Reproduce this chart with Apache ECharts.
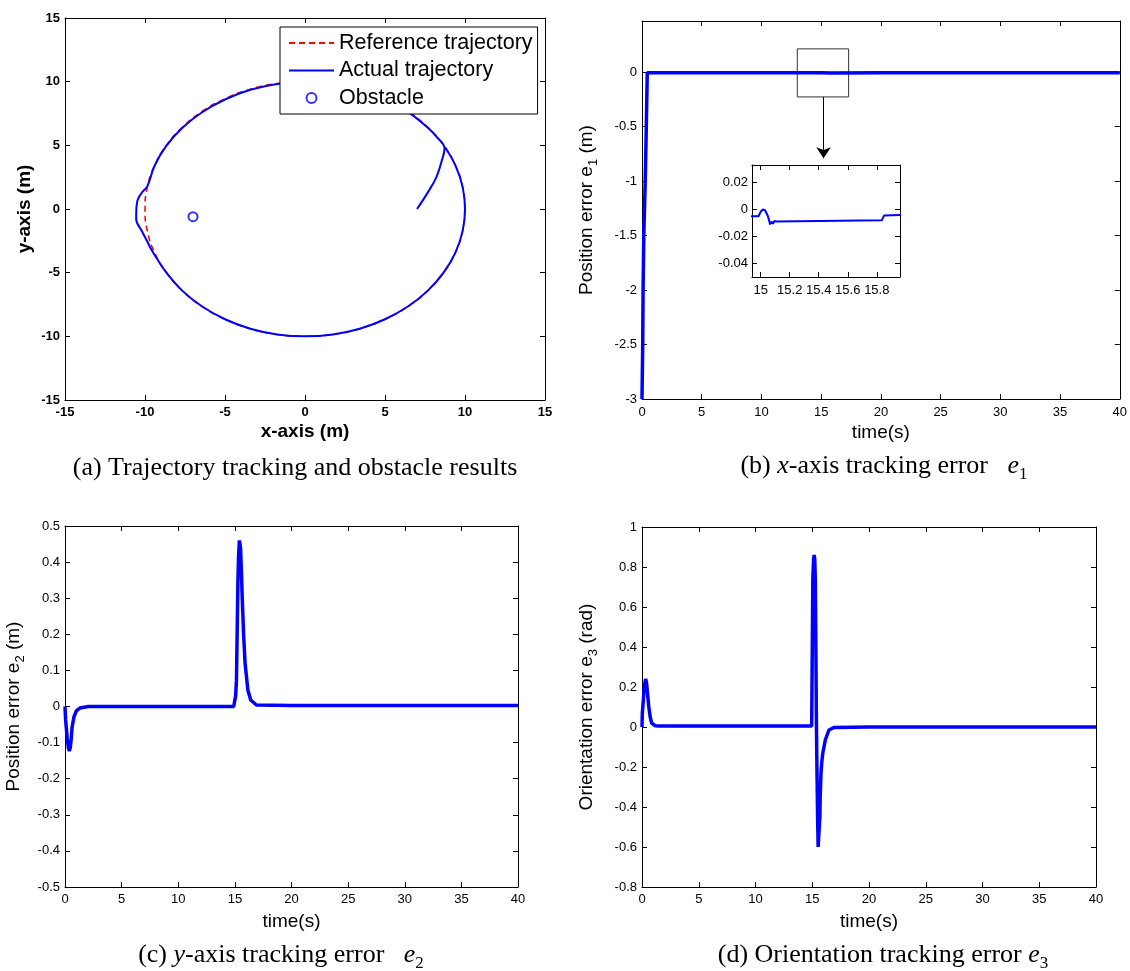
<!DOCTYPE html>
<html>
<head>
<meta charset="utf-8">
<script src="https://cdn.jsdelivr.net/npm/echarts@6/dist/echarts.min.js"></script>
<style>
  html, body { margin: 0; padding: 0; background: #fff; }
  #chart { width: 1130px; height: 971px; }
</style>
</head>
<body>
<div id="chart"></div>
<script>
// ---------- (a) trajectory tracking with obstacle ----------
const refX = [10, 9.85, 9.40, 8.66, 7.66, 6.43, 5.00, 3.42, 1.74, 0, -1.74, -3.42, -5.00, -6.43, -7.66, -8.66, -9.40, -9.85, -10, -9.85, -9.40, -8.66, -7.66, -6.43, -5.00, -3.42, -1.74, 0, 1.74, 3.42, 5.00, 6.43, 7.66, 8.66, 9.40, 9.85, 10];
const refY = [0, 1.74, 3.42, 5.00, 6.43, 7.66, 8.66, 9.40, 9.85, 10, 9.85, 9.40, 8.66, 7.66, 6.43, 5.00, 3.42, 1.74, 0, -1.74, -3.42, -5.00, -6.43, -7.66, -8.66, -9.40, -9.85, -10, -9.85, -9.40, -8.66, -7.66, -6.43, -5.00, -3.42, -1.74, 0];
const actX = [7.0, 7.6, 8.2, 8.55, 8.72, 8.2, 7.66, 6.43, 5.0, 3.42, 1.74, 0, -1.74, -3.42, -5.0, -6.43, -7.66, -8.66, -9.40, -9.85, -10.2, -10.48, -10.55, -10.55, -10.2, -9.88, -9.55, -9.2, -8.66, -7.66, -6.43, -5.0, -3.42, -1.74, 0, 1.74, 3.42, 5.0, 6.43, 7.66, 8.66, 9.40, 9.85, 10.0, 9.85, 9.40, 8.75];
const actY = [0, 1.15, 2.46, 3.8, 4.75, 5.7, 6.40, 7.63, 8.63, 9.37, 9.82, 9.97, 9.82, 9.36, 8.6, 7.6, 6.38, 4.97, 3.40, 1.8, 1.28, 0.63, -0.4, -0.8, -1.73, -2.5, -3.3, -4.0, -5.0, -6.43, -7.66, -8.66, -9.40, -9.85, -10, -9.85, -9.40, -8.66, -7.66, -6.43, -5.0, -3.42, -1.74, 0, 1.74, 3.42, 4.85];
const obstacle = [-7.0, -0.6];
const trajTicks = [-15, -10, -5, 0, 5, 10, 15];

// ---------- (b) x-axis tracking error e1 ----------
const timeE1 = [0, 0.06, 0.09, 0.15, 0.27, 0.36, 0.44, 1, 5, 10, 14.94, 14.985, 15.0, 15.015, 15.03, 15.05, 15.065, 15.075, 15.085, 15.095, 15.11, 15.12, 15.834, 15.85, 15.86, 15.96, 20, 30, 40];
const e1 = [-3, -2.5, -2, -1.5, -1, -0.5, -0.006, -0.005, -0.005, -0.005, -0.005, -0.005, -0.0015, 0, -0.0005, -0.005, -0.011, -0.009, -0.0105, -0.0085, -0.0088, -0.008, -0.008, -0.0045, -0.004, -0.004, -0.004, -0.004, -0.004];
const e1Ticks = [-3, -2.5, -2, -1.5, -1, -0.5, 0];
const zoomTimeTicks = [15, 15.2, 15.4, 15.6, 15.8];
const zoomE1Ticks = [-0.04, -0.02, 0, 0.02];
const zoomBoxT = [13.0, 17.3];
const zoomBoxE = [0.214, -0.227];
const arrowT = 15.2;
const arrowTipE = -0.79;

// ---------- (c) y-axis tracking error e2 ----------
const timeE2 = [0, 0.05, 0.2, 0.3, 0.38, 0.46, 0.54, 0.63, 0.79, 1.0, 1.33, 2.05, 5, 10, 14.9, 15.0, 15.07, 15.14, 15.2, 15.27, 15.33, 15.4, 15.45, 15.5, 15.57, 15.65, 15.77, 15.9, 16.15, 16.4, 16.9, 20, 30, 40];
const e2 = [0, -0.035, -0.09, -0.115, -0.123, -0.115, -0.093, -0.056, -0.029, -0.012, -0.004, 0, 0, 0, 0, 0.005, 0.03, 0.073, 0.2, 0.35, 0.42, 0.46, 0.455, 0.44, 0.38, 0.3, 0.2, 0.12, 0.045, 0.018, 0.004, 0.003, 0.003, 0.003];

// ---------- (d) orientation tracking error e3 ----------
const timeE3 = [0, 0.03, 0.1, 0.2, 0.32, 0.4, 0.5, 0.6, 0.72, 0.85, 1.0, 1.17, 1.5, 5, 10, 14.95, 15.0, 15.05, 15.12, 15.17, 15.22, 15.27, 15.32, 15.36, 15.4, 15.43, 15.47, 15.52, 15.57, 15.62, 15.67, 15.7, 15.77, 15.85, 15.93, 16.15, 16.47, 16.94, 20, 30, 40];
const e3 = [0, 0.07, 0.12, 0.2, 0.24, 0.22, 0.16, 0.1, 0.05, 0.02, 0.01, 0.006, 0.005, 0.005, 0.005, 0.005, 0.01, 0.74, 0.84, 0.86, 0.84, 0.74, 0.4, 0.07, -0.15, -0.27, -0.45, -0.6, -0.61, -0.6, -0.45, -0.35, -0.23, -0.17, -0.13, -0.065, -0.015, -0.002, 0, 0, 0];

const timeTicks = [0, 5, 10, 15, 20, 25, 30, 35, 40];
const e2Ticks = [-0.5, -0.4, -0.3, -0.2, -0.1, 0, 0.1, 0.2, 0.3, 0.4, 0.5];
const e3Ticks = [-0.8, -0.6, -0.4, -0.2, 0, 0.2, 0.4, 0.6, 0.8, 1];

const SANS = "'Liberation Sans', Arial, Helvetica, sans-serif";
const SERIF = "'Liberation Serif', 'Times New Roman', serif";
const BLUE = '#0000ff';
const RED = '#ff0000';

const zip = (xs, ys) => xs.map((x, i) => [x, ys[i]]);

// Boxed axis frame: ticks point inward, mirror axes carry ticks only.
function axis(grid, pos, range, ticks, label, extra) {
  const mirror = pos === 'top' || pos === 'right';
  return Object.assign({
    type: 'value', gridIndex: grid, position: pos,
    min: range[0], max: range[1],
    axisLine: { show: true, onZero: false, lineStyle: { color: '#000', width: 1 } },
    axisTick: { show: true, inside: true, length: 5, customValues: ticks, lineStyle: { color: '#000', width: 1 } },
    axisLabel: mirror ? { show: false } : Object.assign({ customValues: ticks, color: '#000', fontFamily: SANS, fontSize: 13 }, label),
    splitLine: { show: false }
  }, extra || {});
}

const subRich = (size) => ({
  sub: { fontFamily: SANS, fontSize: size, lineHeight: size, verticalAlign: 'bottom', color: '#000' }
});
const nameStyle = { fontFamily: SANS, fontSize: 19, color: '#000', lineHeight: 26, rich: subRich(13) };
const timeName = { fontFamily: SANS, fontSize: 19, color: '#000' };

const grids = [
  { left: 65, top: 18, width: 480, height: 382 },
  { left: 642, top: 21, width: 484, height: 378 },
  { left: 752, top: 165, width: 148, height: 112, show: true, backgroundColor: '#fff', borderWidth: 0 },
  { left: 64, top: 526, width: 454, height: 361 },
  { left: 642, top: 527, width: 454, height: 360 }
];

const boldLabel = { fontWeight: 'bold', fontSize: 13 };
const boldName = { fontFamily: SANS, fontSize: 19, fontWeight: 'bold', color: '#000' };

const xAxes = [
  axis(0, 'bottom', [-15, 15], trajTicks, Object.assign({ margin: 6 }, boldLabel),
    { name: 'x-axis (m)', nameLocation: 'middle', nameGap: 22, nameTextStyle: boldName }),
  axis(0, 'top', [-15, 15], trajTicks),
  axis(1, 'bottom', [0, 40], timeTicks, { margin: 7 },
    { name: 'time(s)', nameLocation: 'middle', nameGap: 24, nameTextStyle: timeName }),
  axis(1, 'top', [0, 40], timeTicks),
  axis(2, 'bottom', [14.94, 15.96], zoomTimeTicks, { margin: 7, fontSize: 13 }),
  axis(2, 'top', [14.94, 15.96], zoomTimeTicks),
  axis(3, 'bottom', [0, 40], timeTicks, { margin: 6 },
    { name: 'time(s)', nameLocation: 'middle', nameGap: 25, nameTextStyle: timeName }),
  axis(3, 'top', [0, 40], timeTicks),
  axis(4, 'bottom', [0, 40], timeTicks, { margin: 6 },
    { name: 'time(s)', nameLocation: 'middle', nameGap: 25, nameTextStyle: timeName }),
  axis(4, 'top', [0, 40], timeTicks)
];

const yAxes = [
  axis(0, 'left', [-15, 15], trajTicks, Object.assign({ margin: 5 }, boldLabel),
    { name: 'y-axis (m)', nameLocation: 'middle', nameGap: 31, nameTextStyle: boldName }),
  axis(0, 'right', [-15, 15], trajTicks),
  axis(1, 'left', [-3, 0.47], e1Ticks, { margin: 5 },
    { name: 'Position error e{sub|1} (m)', nameLocation: 'middle', nameGap: 42, nameTextStyle: nameStyle }),
  axis(1, 'right', [-3, 0.47], e1Ticks),
  axis(2, 'left', [-0.05, 0.033], zoomE1Ticks, { margin: 4 }),
  axis(2, 'right', [-0.05, 0.033], zoomE1Ticks),
  axis(3, 'left', [-0.5, 0.5], e2Ticks, { margin: 5 },
    { name: 'Position error e{sub|2} (m)', nameLocation: 'middle', nameGap: 38, nameTextStyle: nameStyle }),
  axis(3, 'right', [-0.5, 0.5], e2Ticks),
  axis(4, 'left', [-0.8, 1], e3Ticks, { margin: 5 },
    { name: 'Orientation error e{sub|3} (rad)', nameLocation: 'middle', nameGap: 42, nameTextStyle: nameStyle }),
  axis(4, 'right', [-0.8, 1], e3Ticks)
];

const errLine = (name, xi, t, v, width, clip) => ({
  name, type: 'line', xAxisIndex: xi, yAxisIndex: xi,
  data: zip(t, v), symbol: 'none', showSymbol: false, clip: clip,
  lineStyle: { color: BLUE, width: width }, itemStyle: { color: BLUE },
  silent: true, animation: false, z: 3
});

// Main e1 trace, with the box marking the detail window and the arrow to it
const e1Main = errLine('e1', 2, timeE1, e1, 3.5, false);
e1Main.markArea = {
  silent: true,
  itemStyle: { color: 'rgba(0,0,0,0)', borderColor: '#333', borderWidth: 1 },
  label: { show: false },
  data: [[{ coord: [zoomBoxT[0], zoomBoxE[0]] }, { coord: [zoomBoxT[1], zoomBoxE[1]] }]]
};
e1Main.markLine = {
  silent: true, animation: false,
  symbol: ['none', 'arrow'], symbolSize: 11,
  label: { show: false },
  lineStyle: { color: '#000', width: 1, type: 'solid' },
  itemStyle: { color: '#000' },
  data: [[{ coord: [arrowT, zoomBoxE[1]] }, { coord: [arrowT, arrowTipE] }]]
};

const captionRich = {
  i: { fontFamily: SERIF, fontSize: 26, fontStyle: 'italic', lineHeight: 34, fill: '#000' },
  sub: { fontFamily: SERIF, fontSize: 17, lineHeight: 17, verticalAlign: 'bottom', fill: '#000' }
};
const caption = (x, y, text) => ({
  type: 'text', x, y, silent: true,
  style: { text, fontFamily: SERIF, fontSize: 26, lineHeight: 34, fill: '#000', align: 'center', verticalAlign: 'middle', rich: captionRich }
});

const option = {
  backgroundColor: '#fff',
  animation: false,
  grid: grids,
  xAxis: xAxes,
  yAxis: yAxes,
  legend: {
    orient: 'vertical', left: 280, top: 27, z: 10,
    backgroundColor: '#fff', borderColor: '#000', borderWidth: 1,
    padding: [5, 5, 5, 8], itemGap: 5.5, itemWidth: 45, itemHeight: 10,
    textStyle: { fontFamily: SANS, fontSize: 21.5, color: '#000', lineHeight: 22 },
    selectedMode: false,
    data: [
      { name: 'Reference trajectory', itemStyle: { opacity: 0 } },
      { name: 'Actual trajectory', itemStyle: { opacity: 0 } },
      { name: 'Obstacle' }
    ]
  },
  series: [
    {
      name: 'Reference trajectory', type: 'line', xAxisIndex: 0, yAxisIndex: 0,
      data: zip(refX, refY), symbol: 'none', showSymbol: false, clip: true, smooth: 0.5,
      lineStyle: { color: RED, width: 1.5, type: [6, 4] }, itemStyle: { color: RED }, z: 2
    },
    {
      name: 'Actual trajectory', type: 'line', xAxisIndex: 0, yAxisIndex: 0,
      data: zip(actX, actY), symbol: 'none', showSymbol: false, clip: true, smooth: 0.4,
      lineStyle: { color: BLUE, width: 2 }, itemStyle: { color: BLUE }, z: 3
    },
    {
      name: 'Obstacle', type: 'scatter', xAxisIndex: 0, yAxisIndex: 0,
      data: [obstacle], symbol: 'emptyCircle', symbolSize: 9,
      itemStyle: { color: BLUE, borderColor: BLUE, borderWidth: 2 }, z: 4
    },
    e1Main,
    errLine('e1 detail', 4, timeE1, e1, 2, true),
    errLine('e2', 6, timeE2, e2, 3.5, false),
    errLine('e3', 8, timeE3, e3, 3.5, false)
  ],
  graphic: [
    caption(295, 468, '(a) Trajectory tracking and obstacle results'),
    caption(884, 466, '(b) {i|x}-axis tracking error   {i|e}{sub|1}'),
    caption(281, 955, '(c) {i|y}-axis tracking error   {i|e}{sub|2}'),
    caption(883, 955, '(d) Orientation tracking error {i|e}{sub|3}')
  ]
};

const chart = echarts.init(document.getElementById('chart'), null, { renderer: 'canvas' });
chart.setOption(option);
</script>
</body>
</html>
